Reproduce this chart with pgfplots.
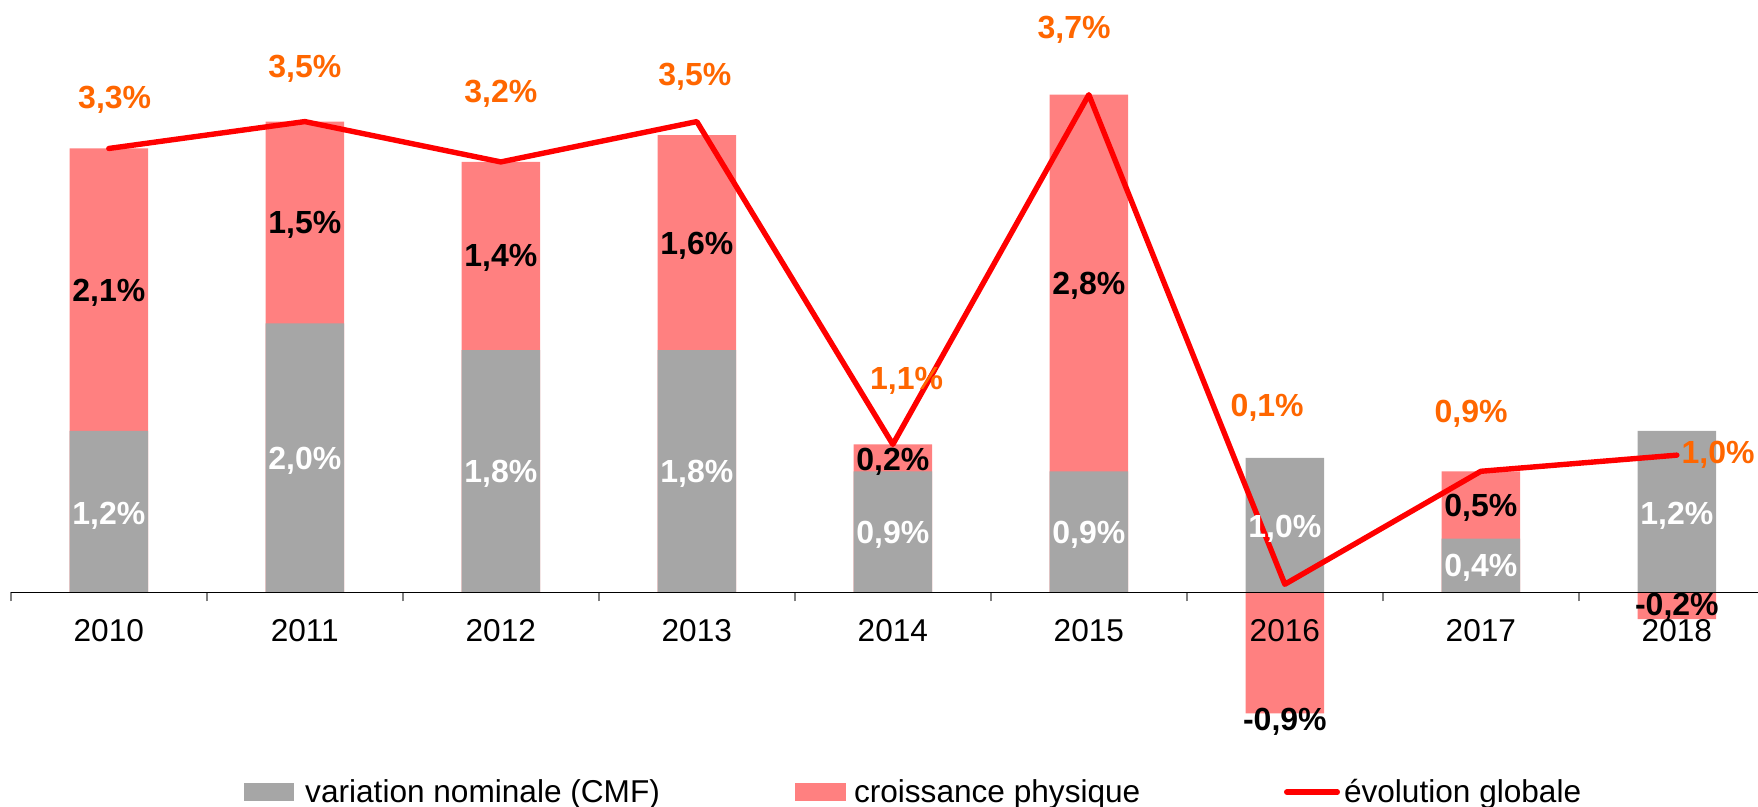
\documentclass[border=0pt]{standalone}
\usepackage{pgfplots}
\pgfplotsset{compat=1.18}
\usepackage{pgfplotstable}
\usepackage{fontspec}
\setmainfont{Liberation Sans}
\definecolor{cgray}{HTML}{A6A6A6}
\definecolor{cpink}{HTML}{FF8080}
\definecolor{corange}{HTML}{FF6600}
\definecolor{cred}{HTML}{FF0000}
\definecolor{ctick}{HTML}{808080}

% x: 0=2010 ... 8=2018 ; pinkbar = top of the pink part (or its negative end)
\pgfplotstableread{
x gray pinkbar line
0 1.2 3.3 3.3
1 2.0 3.5 3.5
2 1.8 3.2 3.2
3 1.8 3.4 3.5
4 0.9 1.1 1.1
5 0.9 3.7 3.7
6 1.0 -0.9 0.06
7 0.4 0.9 0.9
8 1.2 -0.2 1.02
}\bars

\pgfplotstableread{
x y lab
0 0.57 1,2
1 0.98 2,0
2 0.88 1,8
3 0.88 1,8
4 0.43 0,9
5 0.43 0,9
6 0.47 1,0
7 0.18 0,4
8 0.57 1,2
}\graylab

\pgfplotstableread{
x y lab
0 2.23 2,1
1 2.73 1,5
2 2.49 1,4
3 2.58 1,6
4 0.97 0,2
5 2.28 2,8
6 -0.96 -0,9
7 0.63 0,5
8 -0.11 -0,2
}\pinklab

\pgfplotstableread{
x y lab
0.03 3.66 3,3
1.0 3.89 3,5
2.0 3.71 3,2
2.99 3.83 3,5
4.07 1.575 1,1
4.925 4.18 3,7
5.91 1.375 0,1
6.95 1.325 0,9
8.21 1.02 1,0
}\orangelab

\newcommand{\lblfont}{\fontsize{16bp}{19bp}\selectfont\bfseries}
\newcommand{\txtfont}{\fontsize{15.8bp}{19bp}\selectfont}

\begin{document}
\begin{tikzpicture}
\begin{axis}[
  scale only axis, width=873.6bp, height=403.5bp,
  xmin=-0.5, xmax=8.414, ymin=-1.596, ymax=4.404,
  axis on top,
  axis x line=middle, axis y line=none,
  axis line style={-, black, line width=0.75bp},
  xtick={0,1,2,3,4,5,6,7,8},
  xticklabels={2010,2011,2012,2013,2014,2015,2016,2017,2018},
  major tick length=0pt,
  minor xtick={-0.5,0.5,1.5,2.5,3.5,4.5,5.5,6.5,7.5},
  minor tick length=4.5bp,
  tick align=outside,
  minor tick style={ctick, line width=0.75bp},
  xticklabel style={anchor=center, yshift=-18.9bp, font=\txtfont, inner sep=0pt},
  legend style={at={(axis cs:0.69,-1.485)}, anchor=west, draw=none, fill=none,
    font=\txtfont, legend columns=3, inner sep=0pt, nodes={inner sep=0pt},
    /tikz/every even column/.style={column sep=0pt}},
  legend cell align=left,
  clip=false,
]
\addplot[ybar, bar width=0.4, bar shift=0pt, fill=cpink, draw=none, forget plot]
  table[x=x, y=pinkbar] {\bars};
\addplot[ybar, bar width=0.4, bar shift=0pt, fill=cgray, draw=none, forget plot]
  table[x=x, y=gray] {\bars};
\addplot[cred, line width=2.7bp, mark=none, forget plot, line join=round, line cap=round]
  table[x=x, y=line] {\bars};

\addplot[only marks, mark=*, mark size=0pt, mark options={draw=none, fill=none},
  point meta=explicit symbolic, nodes near coords={\pgfplotspointmeta\%},
  every node near coord/.append style={anchor=center, text=white, font=\lblfont, inner sep=0pt},
  forget plot] table[x=x, y=y, meta=lab] {\graylab};
\addplot[only marks, mark=*, mark size=0pt, mark options={draw=none, fill=none},
  point meta=explicit symbolic, nodes near coords={\pgfplotspointmeta\%},
  every node near coord/.append style={anchor=center, text=black, font=\lblfont, inner sep=0pt},
  forget plot] table[x=x, y=y, meta=lab] {\pinklab};
\addplot[only marks, mark=*, mark size=0pt, mark options={draw=none, fill=none},
  point meta=explicit symbolic, nodes near coords={\pgfplotspointmeta\%},
  every node near coord/.append style={anchor=center, text=corange, font=\lblfont, inner sep=0pt},
  forget plot] table[x=x, y=y, meta=lab] {\orangelab};

\addlegendimage{legend image code/.code={\fill[cgray] (0bp,-4.25bp) rectangle (24.5bp,4.25bp);}}
\addlegendentry{\hspace{5.5bp}\makebox[245bp][l]{variation nominale (CMF)}}
\addlegendimage{legend image code/.code={\fill[cpink] (0bp,-4.25bp) rectangle (25bp,4.25bp);}}
\addlegendentry{\hspace{4bp}\makebox[215bp][l]{croissance physique}}
\addlegendimage{legend image code/.code={\draw[cred, line width=2.8bp, line cap=round] (1.4bp,0bp) -- (26.6bp,0bp);}}
\addlegendentry{\hspace{2bp}évolution globale}
\end{axis}
\pgfresetboundingbox
\path[use as bounding box] ([xshift=-5.4bp]current axis.south west) rectangle (current axis.north east);
\end{tikzpicture}
\end{document}
